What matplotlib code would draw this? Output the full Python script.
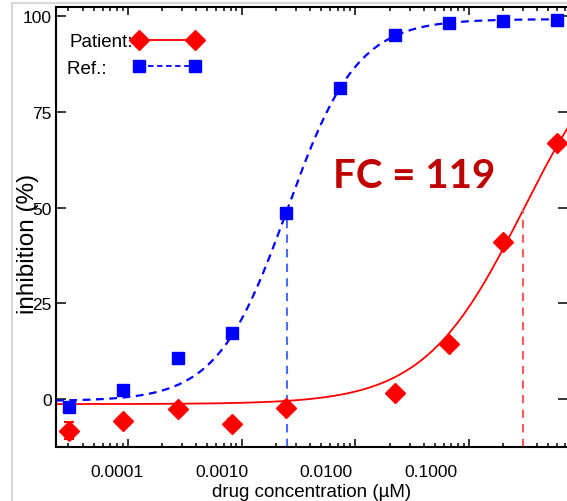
import numpy as np
import matplotlib
matplotlib.use("Agg")
import matplotlib.pyplot as plt
from matplotlib.lines import Line2D
from matplotlib.transforms import ScaledTranslation

plt.rcParams['font.family'] = ['Liberation Sans', 'DejaVu Sans']

# drug concentrations (uM), 3-fold dilution series
conc = [0.0000305, 0.0000914, 0.000274, 0.000823, 0.00247,
        0.00741, 0.0222, 0.0667, 0.2, 0.6]

# reference virus inhibition (%)
ref_y = [-2.1, 2.3, 10.7, 17.2, 48.7, 81.2, 95.0, 98.2, 98.7, 99.0]
ref_err = [0.5, 0.5, 1.2, 0.5, 0.5, 0.5, 0.5, 0.5, 0.5, 0.5]

# patient virus inhibition (%), no point at 0.00741
pat_y = [-8.3, -5.8, -2.6, -6.5, -2.4, np.nan, 1.5, 14.3, 40.9, 66.9]
pat_err = [2.2, 1.2, 0.6, 1.3, 0.6, np.nan, 1.2, 0.6, 0.6, 0.6]

# 4PL fit parameters (bottom, top, EC50, hill)
ref_fit = (-0.5, 99.2, 0.00251, 1.41)
pat_fit = (-1.3, 100.0, 0.299, 1.0)

fold_change = 119

xticks = [0.0001, 0.001, 0.01, 0.1]
xticklabels = ["0.0001", "0.0010", "0.0100", "0.1000"]
yticks = [0, 25, 50, 75, 100]


def logistic(x, p):
    b, t, ec50, h = p
    return b + (t - b) / (1 + (ec50 / x) ** h)


fig = plt.figure(figsize=(5.67, 5.02), dpi=100)
ax = fig.add_axes([56 / 567, 1 - 448 / 502, 512 / 567, 440.5 / 502])

xmin, xmax = 2.33e-5, 0.743
ax.set_xscale("log")
ax.set_xlim(xmin, xmax)
ax.set_ylim(-12.5, 102.5)

red = "#ff0000"
blue = "#0000ff"

xs = np.logspace(np.log10(xmin), np.log10(xmax), 300)
ax.plot(xs, logistic(xs, ref_fit), color=blue, lw=1.6, ls=(0, (3.5, 2.5)))
ax.plot(xs, logistic(xs, pat_fit), color=red, lw=1.3)

# EC50 markers
ax.vlines(ref_fit[2], -12.5, ref_y[4], color="#4a6cff", lw=1.5, ls=(0, (4, 3)))
ax.vlines(pat_fit[2], -12.5, logistic(pat_fit[2], pat_fit), color="#ff5a5a",
          lw=1.5, ls=(0, (4, 3)))

ax.errorbar(conc, ref_y, yerr=ref_err, fmt="s", color=blue, ms=8.5,
            capsize=3, elinewidth=1.2, zorder=4)
ax.errorbar(conc, pat_y, yerr=pat_err, fmt="D", color=red, ms=10,
            capsize=3.5, elinewidth=1.5, capthick=1.5, zorder=4)

ax.text(0.70, 0.617, f"FC = {fold_change}", transform=ax.transAxes,
        fontsize=29, fontweight="bold", color="#c00000", family=["Lato", "DejaVu Sans"],
        ha="center", va="center")

# legend
h1 = Line2D([], [], color=red, marker="D", ms=10, lw=1.3)
h2 = Line2D([], [], color=blue, marker="s", ms=8.5, lw=1.3, ls=(0, (3, 2)))
leg = ax.legend([h1, h2], ["Patient:", "Ref.:     "], loc="upper left",
                bbox_to_anchor=(0.0, 0.965), frameon=False, markerfirst=False,
                numpoints=2, handlelength=3.6, handletextpad=0.0,
                labelspacing=0.5, fontsize=13.5, borderaxespad=0.2)

ax.set_xticks(xticks)
ax.set_xticklabels(xticklabels)
ax.set_yticks(yticks)
ax.tick_params(axis="both", which="both", direction="in", labelsize=12.5,
               width=1.1, top=True, right=True)
ax.tick_params(axis="x", which="major", length=5.5, pad=12)
ax.tick_params(axis="x", which="minor", length=3)
ax.tick_params(axis="y", which="major", length=7.5, pad=3)
ax.tick_params(axis="y", which="minor", left=False, right=False)

# shift x tick labels like the original
for lab, dx in zip(ax.get_xticklabels(), [-11, -20, -29, -38]):
    lab.set_transform(lab.get_transform() + ScaledTranslation(dx / 100, 0, fig.dpi_scale_trans))

for s in ["left", "bottom", "top"]:
    ax.spines[s].set_linewidth(1.5)
ax.spines["right"].set_visible(False)

ax.set_xlabel("drug concentration (\u00b5M)", fontsize=13.5, labelpad=3)
ax.set_ylabel("inhibition (%)", fontsize=17.5)
ax.yaxis.set_label_coords(-0.055, 0.463)
ax.yaxis.label.set_verticalalignment("center")

# light frame of the original screenshot
fig.add_artist(Line2D([12 / 567, 12 / 567], [0, 1 - 4 / 502], color="#d8d8d8", lw=1.5))
fig.add_artist(Line2D([12 / 567, 1], [1 - 4 / 502, 1 - 4 / 502], color="#d8d8d8", lw=1.5))

fig.savefig("out.png", dpi=100)
